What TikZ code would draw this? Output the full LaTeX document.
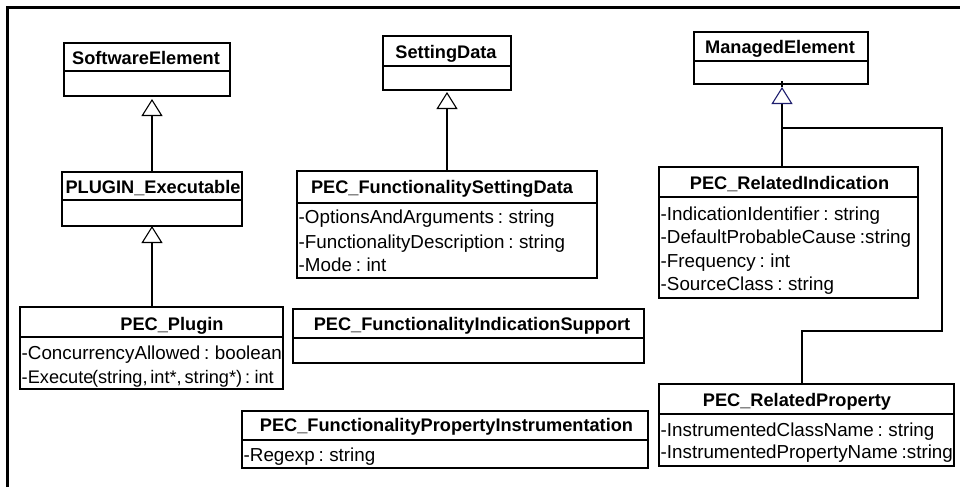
\documentclass[tikz,border=0pt]{standalone}
\usepackage{fontspec}
\setmainfont{Liberation Sans}
\usetikzlibrary{arrows.meta}
\newcommand\myattrfont{\fontsize{18.8}{22}\selectfont\spaceskip=3.8pt\relax}
\newcommand\mytightfont{\fontsize{18.2}{22}\selectfont\spaceskip=2.8pt\relax}
\begin{document}
\begin{tikzpicture}[x=1pt,y=-1pt,
  box/.style={draw, line width=1.1pt, anchor=north west, inner sep=0pt, outer sep=0pt},
  title/.style={anchor=base, inner sep=0pt, font=\fontsize{18.2}{22}\selectfont\bfseries},
  attr/.style={anchor=base west, inner sep=0pt, font=\myattrfont},
  tightattr/.style={anchor=base west, inner sep=0pt, font=\mytightfont},
  wire/.style={line width=1.1pt},
  gen/.style={line width=1.1pt, -{Triangle[open, length=17pt, width=21pt, line width=1.1pt]}},
  navygen/.style={line width=1.1pt, -{Triangle[open, length=17pt, width=21pt, line width=1.1pt, color=navyline]}},
  frame/.style={line width=2.2pt}]
\definecolor{navyline}{RGB}{30,30,110}
\useasboundingbox (0,0) rectangle (960,487);
% outer frame
\draw[frame] (7.5,487) -- (7.5,7.5) -- (960,7.5);

% SoftwareElement
\node[box, minimum width=166pt, minimum height=53pt] (se) at (64,43) {};
\draw[wire] (64,71) -- (230,71);
\node[title] (set) at (146,64.3) {SoftwareElement};

% PLUGIN_Executable
\node[box, minimum width=180pt, minimum height=54pt] (pe) at (62,172) {};
\draw[wire] (62,200) -- (242,200);
\node[title] (pet) at (153,193) {PLUGIN\_Executable};

% PEC_Plugin
\node[box, minimum width=263pt, minimum height=82pt] (pp) at (20,307) {};
\draw[wire] (20,337) -- (283,337);
\node[title] (ppt) at (172,330) {PEC\_Plugin};
\node[attr] (ppa1) at (21.5,359) {-ConcurrencyAllowed : boolean};
\node[tightattr] (ppa2) at (21.5,383.3) {-Execute\kern-1.5pt(string, int*, string*) : int};

% SettingData
\node[box, minimum width=128pt, minimum height=54pt] (sd) at (383,36) {};
\draw[wire] (383,66) -- (511,66);
\node[title] (sdt) at (446,59) {SettingData};

% PEC_FunctionalitySettingData
\node[box, minimum width=300pt, minimum height=107pt] (fsd) at (297,171) {};
\draw[wire] (297,203) -- (597,203);
\node[title] (fsdt) at (442,193.3) {PEC\_FunctionalitySettingData};
\node[attr] (fsda1) at (298.5,223.3) {-OptionsAndArguments : string};
\node[attr] (fsda2) at (298.5,248) {-FunctionalityDescription : string};
\node[attr] (fsda3) at (298.5,271.7) {-Mode : int};

% PEC_FunctionalityIndicationSupport
\node[box, minimum width=351pt, minimum height=54pt] (fis) at (293,309) {};
\draw[wire] (293,338) -- (644,338);
\node[title] (fist) at (472,330.5) {PEC\_FunctionalityIndicationSupport};

% PEC_FunctionalityPropertyInstrumentation
\node[box, minimum width=406pt, minimum height=57pt] (fpi) at (242,411) {};
\draw[wire] (242,440) -- (648,440);
\node[title] (fpit) at (446.5,431.5) {PEC\_FunctionalityPropertyInstrumentation};
\node[attr] (fpia1) at (243.5,461.7) {-Regexp : string};

% ManagedElement
\node[box, minimum width=174pt, minimum height=52pt] (me) at (694,32) {};
\draw[wire] (694,61) -- (868,61);
\node[title] (met) at (780,54) {ManagedElement};

% PEC_RelatedIndication
\node[box, minimum width=259pt, minimum height=131pt] (ri) at (659,167) {};
\draw[wire] (659,197) -- (918,197);
\node[title] (rit) at (789.5,189.3) {PEC\_RelatedIndication};
\node[attr] (ria1) at (660.5,220) {-IndicationIdentifier : string};
\node[attr] (ria2) at (660.5,243.5) {-DefaultProbableCause :string};
\node[attr] (ria3) at (660.5,267) {-Frequency : int};
\node[attr] (ria4) at (660.5,290.5) {-SourceClass : string};

% PEC_RelatedProperty
\node[box, minimum width=295pt, minimum height=82pt] (rp) at (659,384) {};
\draw[wire] (659,414) -- (954,414);
\node[title] (rpt) at (797,406.5) {PEC\_RelatedProperty};
\node[attr] (rpa1) at (660.5,436.7) {-InstrumentedClassName : string};
\node[attr] (rpa2) at (660.5,458.3) {-InstrumentedPropertyName :string};

% generalisations
\draw[gen, shorten >=3pt] (pe.north) -- (pe.north |- se.south);
\draw[gen] (pe.south |- pp.north) -- (pe.south);
\draw[gen, shorten >=2pt] (fsd.north) -- (fsd.north |- sd.south);

\coordinate (mx) at (782,0);
\coordinate (j) at (782,128);
\coordinate (b1) at (942,128);
\coordinate (b2) at (942,331);
\coordinate (b3) at (802,331);
\draw[navygen, shorten >=3pt] (mx |- ri.north) -- (mx |- me.south);
\draw[wire] (mx |- 0,81) -- (mx |- 0,87);
\draw[wire] (j) -- (b1) -- (b2) -- (b3) -- (b3 |- rp.north);
\end{tikzpicture}
\end{document}
